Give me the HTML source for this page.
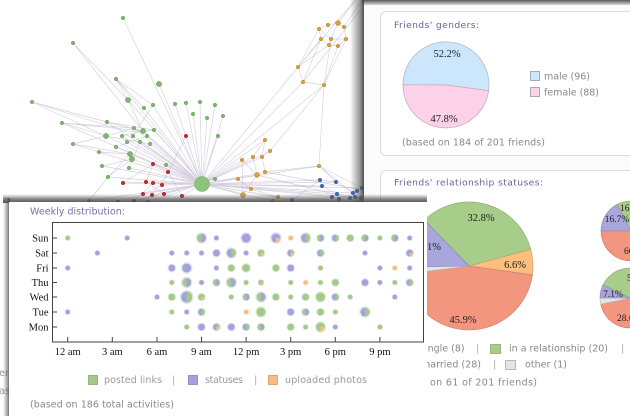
<!DOCTYPE html>
<html><head><meta charset="utf-8">
<style>
html,body{margin:0;padding:0;background:#fff;}
svg{display:block;}
.s{font-family:"DejaVu Sans","Liberation Sans",sans-serif;}
.f{font-family:"Liberation Serif","DejaVu Serif",serif;}
</style></head>
<body>
<svg width="630" height="416" viewBox="0 0 630 416" xmlns="http://www.w3.org/2000/svg">
<defs>
  <linearGradient id="shL" x1="0" x2="1" y1="0" y2="0">
    <stop offset="0" stop-color="#555" stop-opacity="0"/>
    <stop offset="0.7" stop-color="#555" stop-opacity="0.6"/>
    <stop offset="1" stop-color="#444" stop-opacity="0.95"/>
  </linearGradient>
  <linearGradient id="shT" x1="0" x2="0" y1="0" y2="1">
    <stop offset="0" stop-color="#444" stop-opacity="0.9"/>
    <stop offset="1" stop-color="#555" stop-opacity="0.1"/>
  </linearGradient>
  <linearGradient id="shT2" x1="0" x2="0" y1="0" y2="1">
    <stop offset="0" stop-color="#666" stop-opacity="0"/>
    <stop offset="0.55" stop-color="#555" stop-opacity="0.7"/>
    <stop offset="1" stop-color="#444" stop-opacity="0.95"/>
  </linearGradient>
  <g id="g"><circle r="1.3" fill="#a4c98a" opacity="0.35"/><circle r="1" fill="#a4c98a"/></g>
  <g id="p"><circle r="1.3" fill="#a3a3dc" opacity="0.35"/><circle r="1" fill="#a3a3dc"/></g>
  <g id="o"><circle r="1.3" fill="#fbbd7f" opacity="0.35"/><circle r="1" fill="#fbbd7f"/></g>
  <g id="gp"><circle r="1.3" fill="#a3b6c0" opacity="0.35"/><circle r="1" fill="#a4c98a"/><path d="M0,-1A1,1 0 0 1 0,1Z" fill="#a3a3dc"/></g>
  <g id="pg"><circle r="1.3" fill="#a3b6c0" opacity="0.35"/><circle r="1" fill="#a3a3dc"/><path d="M0,-1A1,1 0 0 1 0,1Z" fill="#a4c98a"/></g>
  <g id="go"><circle r="1.3" fill="#a4c98a" opacity="0.35"/><circle r="1" fill="#a4c98a"/><path d="M0,0L1,0A1,1 0 0 1 0,1Z" fill="#fbbd7f"/></g>
  <g id="po"><circle r="1.3" fill="#a3a3dc" opacity="0.35"/><circle r="1" fill="#a3a3dc"/><path d="M0,0L1,0A1,1 0 0 1 0,1Z" fill="#fbbd7f"/></g>
  <g id="pgo"><circle r="1.3" fill="#a3b6c0" opacity="0.35"/><circle r="1" fill="#a3a3dc"/><path d="M0,-1A1,1 0 0 1 0,1Z" fill="#a4c98a"/><path d="M0,0L1,0A1,1 0 0 1 0,1Z" fill="#fbbd7f"/></g>
</defs>

<!-- ===== Network graph ===== -->
<g stroke="#b0a0c0" stroke-opacity="0.5" stroke-width="0.65" fill="none">
<path d="M202,184L123,18M202,184L159,84M202,184L116,79M202,184L175,104M202,184L186,103M202,184L200,102M202,184L215,105M202,184L193,114M202,184L207,118M202,184L223,116M202,184L218,136M202,184L128,100M202,184L144,108M202,184L153,105M202,184L134,128M202,184L143,131M202,184L154,130M202,184L106,136M202,184L122,136M202,184L133,136M202,184L147,136M202,184L127,142M202,184L140,142M202,184L150,144M202,184L130,154M202,184L132,159M202,184L116,147M202,184L99,152M202,184L102,166M202,184L129,168M202,184L166,165M202,184L108,177M202,184L215,179M202,184L89,201M202,184L186,136M202,184L153,164M202,184L168,172M202,184L123,183M202,184L146,182M202,184L153,183M202,184L162,185M202,184L143,194M202,184L152,195M202,184L164,194M202,184L182,196M202,184L134,201M202,184L148,202M202,184L242,160M202,184L253,157M202,184L265,140M202,184L257,175M202,184L265,172M202,184L238,179M202,184L251,189M202,184L243,195M202,184L278,197M202,184L319,166M202,184L320,180M202,184L336,182M202,184L298,67M202,184L303,82M202,184L324,85M202,184L292,200M202,184L353,193M202,184L362,188M202,184L62,123M202,184L73,144M202,184L107,122M202,184L270,151M202,184L262,157M202,184L332,197M202,184L337,194M202,184L322,186M202,184L361,198M202,184L273,201"/>
<path d="M32,102L107,122M32,102L128,132M32,102L106,136M73,43L143,131M73,43L128,100M116,79L128,100M116,79L153,105M116,79L144,108M128,100L143,131M153,105L133,136M62,123L106,136M62,123L134,128M73,144L106,136M73,144L130,154M107,122L143,131M106,136L150,144M122,136L143,131M128,132L154,130M116,147L147,136M99,152L130,154M102,166L132,159M108,177L130,154M129,168L140,142M89,201L108,177M108,177L132,159M62,123L143,131M107,122L154,130M106,136L134,128"/>
<path d="M123,183L146,182M146,182L153,164M153,164L168,172M143,194L162,185M152,195L168,172M164,194L146,182M118,202L143,194M134,201L153,183M186,136L162,185M182,196L168,172M123,183L153,164"/>
<path d="M319,29L328,25L338,23L344,27L346,39L338,46L329,45L321,39L319,29M331,39L319,29M331,39L338,23M331,39L346,39M331,39L329,45M298,67L319,29M298,67L321,39M298,67L329,45M303,82L324,85M303,82L321,39M324,85L338,46M324,85L346,39M324,85L331,39M298,67L303,82M338,23L356,0M344,27L362,0M298,67L355,0M303,82L362,8M324,85L319,166M324,85L270,151M265,140L253,157M265,140L262,157M270,151L262,157M253,157L257,175M262,157L265,172M242,160L257,175M238,179L251,189M257,175L243,195M265,172L319,166M251,189L278,197M242,160L243,195M319,166L336,182M319,166L362,188M319,166L353,193M320,180L336,182M322,186L337,194M336,182L353,193M337,194L362,198M332,197L350,198M357,191L339,199M292,200L320,180M265,172L362,190M257,175L350,198"/>
</g>
<g stroke-width="0.5">
 <g fill="#80b770" stroke="#5f9a50">
  <circle cx="123" cy="18" r="1.8"/><circle cx="73" cy="43" r="1.8"/><circle cx="116" cy="79" r="1.8"/><circle cx="32" cy="102" r="1.8"/><circle cx="144" cy="108" r="1.8"/><circle cx="153" cy="105" r="1.8"/><circle cx="175" cy="104" r="1.8"/><circle cx="186" cy="103" r="1.8"/><circle cx="200" cy="102" r="1.8"/><circle cx="215" cy="105" r="1.8"/><circle cx="193" cy="114" r="1.8"/><circle cx="207" cy="118" r="1.8"/><circle cx="223" cy="116" r="1.8"/><circle cx="218" cy="136" r="1.8"/><circle cx="62" cy="123" r="1.8"/><circle cx="107" cy="122" r="1.8"/><circle cx="134" cy="128" r="1.8"/><circle cx="154" cy="130" r="1.8"/><circle cx="122" cy="136" r="1.8"/><circle cx="133" cy="136" r="1.8"/><circle cx="147" cy="136" r="1.8"/><circle cx="73" cy="144" r="1.8"/><circle cx="127" cy="142" r="1.8"/><circle cx="140" cy="142" r="1.8"/><circle cx="150" cy="144" r="1.8"/><circle cx="116" cy="147" r="1.8"/><circle cx="99" cy="152" r="1.8"/><circle cx="102" cy="166" r="1.8"/><circle cx="129" cy="168" r="1.8"/><circle cx="166" cy="165" r="1.8"/><circle cx="108" cy="177" r="1.8"/><circle cx="215" cy="179" r="1.8"/>
  <circle cx="159" cy="84" r="2.6"/><circle cx="128" cy="100" r="2.6"/><circle cx="143" cy="131" r="2.6"/><circle cx="106" cy="136" r="2.6"/><circle cx="130" cy="154" r="2.6"/><circle cx="132" cy="159" r="2.6"/>
  <circle cx="202" cy="184" r="7.5" fill="#8cc47a" stroke="#6aa55a"/>
 </g>
 <circle cx="89" cy="201" r="1.8" fill="#4d8a3f"/>
 <g fill="#cc2a2a" stroke="#a01818">
  <circle cx="186" cy="136" r="1.8"/><circle cx="153" cy="164" r="1.8"/><circle cx="168" cy="172" r="1.8"/><circle cx="123" cy="183" r="1.8"/><circle cx="146" cy="182" r="1.8"/><circle cx="153" cy="183" r="1.8"/><circle cx="162" cy="185" r="1.8"/><circle cx="143" cy="194" r="1.8"/><circle cx="152" cy="195" r="1.8"/><circle cx="164" cy="194" r="1.8"/><circle cx="182" cy="196" r="1.8"/><circle cx="118" cy="202" r="1.8"/><circle cx="134" cy="201" r="1.8"/><circle cx="148" cy="202" r="1.8"/>
 </g>
 <g fill="#d9a23a" stroke="#b07f20">
  <circle cx="319" cy="29" r="1.8"/><circle cx="328" cy="25" r="1.8"/><circle cx="344" cy="27" r="1.8"/><circle cx="321" cy="39" r="1.8"/><circle cx="331" cy="39" r="1.8"/><circle cx="346" cy="39" r="1.8"/><circle cx="329" cy="45" r="1.8"/><circle cx="338" cy="46" r="1.8"/><circle cx="298" cy="67" r="1.8"/><circle cx="303" cy="82" r="1.8"/><circle cx="324" cy="85" r="1.8"/><circle cx="265" cy="140" r="1.8"/><circle cx="253" cy="157" r="1.8"/><circle cx="262" cy="157" r="1.8"/><circle cx="270" cy="151" r="1.8"/><circle cx="242" cy="160" r="1.8"/><circle cx="265" cy="172" r="1.8"/><circle cx="238" cy="179" r="1.8"/><circle cx="251" cy="189" r="1.8"/><circle cx="319" cy="166" r="1.8"/><circle cx="278" cy="197" r="1.8"/><circle cx="273" cy="201" r="1.8"/>
  <circle cx="338" cy="23" r="2.5"/><circle cx="257" cy="175" r="2.5"/><circle cx="243" cy="195" r="2.5"/>
 </g>
 <g fill="#3a6ec0" stroke="#24509a">
  <circle cx="320" cy="180" r="1.8"/><circle cx="322" cy="186" r="1.8"/><circle cx="336" cy="182" r="1.8"/><circle cx="337" cy="194" r="1.8"/><circle cx="353" cy="193" r="1.8"/><circle cx="357" cy="191" r="1.8"/><circle cx="362" cy="188" r="1.8"/><circle cx="332" cy="197" r="1.8"/><circle cx="339" cy="199" r="1.8"/><circle cx="350" cy="198" r="1.8"/><circle cx="355" cy="197" r="1.8"/><circle cx="361" cy="198" r="1.8"/><circle cx="292" cy="200" r="1.8"/>
 </g>
</g>

<!-- ghost text far left -->
<text class="s" x="-1" y="376" font-size="10" fill="#999">er</text>
<text class="s" x="-1" y="394" font-size="10" fill="#999">as</text>

<!-- ===== Right window ===== -->
<rect x="350" y="0" width="14" height="416" fill="url(#shL)"/>
<rect x="362" y="0" width="268" height="6" fill="url(#shT)"/>
<rect x="364" y="5" width="266" height="411" fill="#fbfbfb"/>
<rect x="380.5" y="11.5" width="262" height="144" rx="6" fill="#fff" stroke="#dcdcdc"/>
<rect x="380.5" y="170.5" width="262" height="262" rx="6" fill="#fff" stroke="#dcdcdc"/>

<text class="s" x="394" y="28" font-size="9.2" fill="#6e5f96" textLength="85">Friends' genders:</text>
<path d="M446,85L403,84.7A43,43 0 1 1 488.6,90.7Z" fill="#cce7fb" stroke="#a9b4c4" stroke-width="0.7"/>
<path d="M446,85L488.6,90.7A43,43 0 0 1 403,84.7Z" fill="#fdd1e7" stroke="#c0a9b8" stroke-width="0.7"/>
<text class="f" x="447" y="57" font-size="10.5" fill="#222" text-anchor="middle">52.2%</text>
<text class="f" x="444" y="122" font-size="10.5" fill="#222" text-anchor="middle">47.8%</text>
<rect x="530.5" y="71.5" width="9" height="9" fill="#cce7fb" stroke="#999" stroke-width="0.8"/>
<text class="s" x="544" y="79.5" font-size="9.5" fill="#888" textLength="46">male (96)</text>
<rect x="530.5" y="87.5" width="9" height="9" fill="#fdd1e7" stroke="#999" stroke-width="0.8"/>
<text class="s" x="544" y="95.5" font-size="9.5" fill="#888" textLength="55">female (88)</text>
<text class="s" x="402" y="145.5" font-size="9.5" fill="#888" textLength="143">(based on 184 of 201 friends)</text>

<text class="s" x="394" y="185.5" font-size="9.2" fill="#6e5f96" textLength="149">Friends' relationship statuses:</text>
<path d="M469,266L424.5,220A64,64 0 0 1 530.8,249.4Z" fill="#a8cc8a" stroke="#8aa870" stroke-width="0.6"/>
<path d="M469,266L530.8,249.4A64,64 0 0 1 532.4,274.9Z" fill="#fdbf7c" stroke="#c89a68" stroke-width="0.6"/>
<path d="M469,266L532.4,274.9A64,64 0 0 1 405.5,273.8Z" fill="#f29680" stroke="#c87a6a" stroke-width="0.6"/>
<path d="M469,266L405.5,273.8A64,64 0 0 1 405,267.1Z" fill="#e4e4e4" stroke="#bbb" stroke-width="0.6"/>
<path d="M469,266L405,267.1A64,64 0 0 1 424.5,220Z" fill="#a8a6dc" stroke="#8a88b8" stroke-width="0.6"/>
<text class="f" x="481" y="221" font-size="10.5" fill="#222" text-anchor="middle">32.8%</text>
<text class="f" x="515" y="268" font-size="10.5" fill="#222" text-anchor="middle">6.6%</text>
<text class="f" x="463" y="323" font-size="10.5" fill="#222" text-anchor="middle">45.9%</text>
<text class="f" x="441" y="250" font-size="10.5" fill="#222" text-anchor="end">13.1%</text>

<path d="M631,231L601,231A30,30 0 0 1 617.4,204.3Z" fill="#a8a6dc" stroke="#8a88b8" stroke-width="0.6"/>
<path d="M631,231L617.4,204.3A30,30 0 0 1 647.3,205.8Z" fill="#a8cc8a" stroke="#8aa870" stroke-width="0.6"/>
<path d="M631,231L647.3,205.8A30,30 0 1 1 601,231Z" fill="#f29680" stroke="#c87a6a" stroke-width="0.6"/>
<text class="f" x="617" y="222" font-size="9.5" fill="#222" text-anchor="middle">16.7%</text>
<text class="f" x="620" y="211" font-size="9.5" fill="#222">16.7%</text>
<text class="f" x="624" y="254" font-size="9.5" fill="#222">66.7%</text>

<path d="M630,298L642.7,325.2A30,30 0 0 1 600.7,304.2Z" fill="#f29680" stroke="#c87a6a" stroke-width="0.6"/>
<path d="M630,298L600.7,304.2A30,30 0 0 1 600,298Z" fill="#e4e4e4" stroke="#bbb" stroke-width="0.6"/>
<path d="M630,298L600,298A30,30 0 0 1 603,284.8Z" fill="#a8a6dc" stroke="#8a88b8" stroke-width="0.6"/>
<path d="M630,298L603,284.8A30,30 0 1 1 642.7,325.2Z" fill="#a8cc8a" stroke="#8aa870" stroke-width="0.6"/>
<text class="f" x="613" y="297" font-size="9.5" fill="#222" text-anchor="middle">7.1%</text>
<text class="f" x="617" y="321" font-size="9.5" fill="#222">28.6%</text>
<text class="f" x="627" y="281" font-size="9.5" fill="#222">57.1%</text>

<text class="s" x="420" y="351.5" font-size="9.5" fill="#888">single (8)</text>
<text class="s" x="476" y="351.5" font-size="10" fill="#aaa">|</text>
<rect x="490.5" y="344.5" width="10" height="9" fill="#a8cc8a" stroke="#8aa870" stroke-width="0.8"/>
<text class="s" x="509" y="351.5" font-size="9.5" fill="#888" textLength="99">in a relationship (20)</text>
<text class="s" x="621" y="351.5" font-size="10" fill="#aaa">|</text>
<text class="s" x="421" y="367.5" font-size="9.5" fill="#888" textLength="60">married (28)</text>
<text class="s" x="493" y="367.5" font-size="10" fill="#aaa">|</text>
<rect x="505.5" y="360.5" width="10" height="9" fill="#e4e4e4" stroke="#aaa" stroke-width="0.8"/>
<text class="s" x="525" y="367.5" font-size="9.5" fill="#888" textLength="42">other (1)</text>
<text class="s" x="392" y="385.5" font-size="9.5" fill="#888" textLength="145">(based on 61 of 201 friends)</text>

<!-- ===== Weekly window ===== -->
<rect x="3" y="194" width="424" height="9" fill="url(#shT2)"/>
<rect x="3" y="198" width="7" height="218" fill="url(#shL)"/>
<rect x="9" y="202" width="418" height="214" fill="#fff"/>

<text class="s" x="30" y="214.5" font-size="9.5" fill="#7a6ea8" textLength="95">Weekly distribution:</text>
<rect x="52.5" y="222.5" width="371" height="119.5" fill="none" stroke="#444" stroke-width="1"/>
<g stroke="#444" stroke-width="1">
 <path d="M52,238H57M52,253H57M52,268H57M52,282.5H57M52,297H57M52,312H57M52,327H57"/>
 <path d="M67.7,342V337M112.3,342V337M157,342V337M201.5,342V337M246.1,342V337M290.7,342V337M335.3,342V337M379.9,342V337"/>
</g>
<g class="f" font-size="10.5" fill="#111" text-anchor="end">
 <text x="48.5" y="241.5">Sun</text>
 <text x="48.5" y="256.5">Sat</text>
 <text x="48.5" y="271.5">Fri</text>
 <text x="48.5" y="286">Thu</text>
 <text x="48.5" y="300.5">Wed</text>
 <text x="48.5" y="315.5">Tue</text>
 <text x="48.5" y="330.5">Mon</text>
</g>
<g class="f" font-size="10.5" fill="#111" text-anchor="middle">
 <text x="67.7" y="355">12 am</text>
 <text x="112.3" y="355">3 am</text>
 <text x="157" y="355">6 am</text>
 <text x="201.5" y="355">9 am</text>
 <text x="246.1" y="355">12 pm</text>
 <text x="290.7" y="355">3 pm</text>
 <text x="335.3" y="355">6 pm</text>
 <text x="379.9" y="355">9 pm</text>
</g>

<!-- dots -->
<g>
<use href="#g" transform="translate(67.7,238) scale(2.3)"/>
<use href="#p" transform="translate(127.2,238) scale(2.3)"/>
<use href="#gp" transform="translate(201.5,238) scale(4.4)"/>
<use href="#p" transform="translate(216.4,238) scale(2.3)"/>
<use href="#p" transform="translate(246.1,238) scale(4.4)"/>
<use href="#po" transform="translate(275.9,238) scale(4.4)"/>
<use href="#o" transform="translate(290.7,238) scale(2.3)"/>
<use href="#pg" transform="translate(305.6,238) scale(4.4)"/>
<use href="#gp" transform="translate(320.5,238) scale(3.3)"/>
<use href="#pg" transform="translate(335.3,238) scale(3.3)"/>
<use href="#g" transform="translate(350.2,238) scale(3.3)"/>
<use href="#gp" transform="translate(365,238) scale(3.3)"/>
<use href="#g" transform="translate(379.9,238) scale(2.3)"/>
<use href="#gp" transform="translate(394.8,238) scale(3.3)"/>
<use href="#p" transform="translate(409.7,238) scale(2.3)"/>

<use href="#p" transform="translate(97.4,253) scale(2.3)"/>
<use href="#p" transform="translate(171.8,253) scale(2.3)"/>
<use href="#p" transform="translate(186.7,253) scale(2.3)"/>
<use href="#p" transform="translate(201.5,253) scale(2.3)"/>
<use href="#p" transform="translate(216.4,253) scale(3.3)"/>
<use href="#pg" transform="translate(231.3,253) scale(4.4)"/>
<use href="#p" transform="translate(246.1,253) scale(2.3)"/>
<use href="#go" transform="translate(261,253) scale(3.3)"/>
<use href="#pgo" transform="translate(290.7,253) scale(3.3)"/>
<use href="#pg" transform="translate(320.5,253) scale(3.3)"/>
<use href="#p" transform="translate(365,253) scale(2.3)"/>
<use href="#po" transform="translate(409.7,253) scale(3.3)"/>

<use href="#p" transform="translate(67.7,268) scale(2.3)"/>
<use href="#p" transform="translate(171.8,268) scale(3.3)"/>
<use href="#p" transform="translate(186.7,268) scale(4.4)"/>
<use href="#p" transform="translate(216.4,268) scale(2.3)"/>
<use href="#g" transform="translate(231.3,268) scale(3.3)"/>
<use href="#g" transform="translate(246.1,268) scale(3.8)"/>
<use href="#g" transform="translate(275.9,268) scale(3.3)"/>
<use href="#p" transform="translate(290.7,268) scale(3.3)"/>
<use href="#g" transform="translate(320.5,268) scale(2.3)"/>
<use href="#p" transform="translate(379.9,268) scale(2.3)"/>
<use href="#o" transform="translate(394.8,268) scale(2.3)"/>
<use href="#p" transform="translate(409.7,268) scale(2.3)"/>

<use href="#g" transform="translate(171.8,282.5) scale(2.3)"/>
<use href="#gp" transform="translate(186.7,282.5) scale(4.4)"/>
<use href="#p" transform="translate(201.5,282.5) scale(2.3)"/>
<use href="#gp" transform="translate(216.4,282.5) scale(3.3)"/>
<use href="#gp" transform="translate(231.3,282.5) scale(4.4)"/>
<use href="#g" transform="translate(246.1,282.5) scale(2.3)"/>
<use href="#go" transform="translate(261,282.5) scale(2.6)"/>
<use href="#g" transform="translate(290.7,282.5) scale(2.3)"/>
<use href="#o" transform="translate(305.6,282.5) scale(2.3)"/>
<use href="#g" transform="translate(320.5,282.5) scale(2.3)"/>
<use href="#g" transform="translate(335.3,282.5) scale(3.3)"/>
<use href="#p" transform="translate(365,282.5) scale(3.3)"/>
<use href="#p" transform="translate(379.9,282.5) scale(2.3)"/>
<use href="#g" transform="translate(394.8,282.5) scale(2.3)"/>
<use href="#pg" transform="translate(409.7,282.5) scale(3.3)"/>

<use href="#p" transform="translate(157,297) scale(2.3)"/>
<use href="#g" transform="translate(171.8,297) scale(3.3)"/>
<use href="#pg" transform="translate(186.7,297) scale(5.4)"/>
<use href="#go" transform="translate(201.5,297) scale(3.3)"/>
<use href="#g" transform="translate(231.3,297) scale(2.3)"/>
<use href="#gp" transform="translate(246.1,297) scale(3.3)"/>
<use href="#gp" transform="translate(261,297) scale(4.4)"/>
<use href="#g" transform="translate(275.9,297) scale(3.3)"/>
<use href="#g" transform="translate(290.7,297) scale(2.3)"/>
<use href="#g" transform="translate(305.6,297) scale(3.3)"/>
<use href="#g" transform="translate(320.5,297) scale(4.4)"/>
<use href="#pg" transform="translate(335.3,297) scale(3.3)"/>
<use href="#g" transform="translate(350.2,297) scale(2.3)"/>
<use href="#p" transform="translate(394.8,297) scale(2.3)"/>

<use href="#p" transform="translate(67.7,312) scale(2.3)"/>
<use href="#g" transform="translate(171.8,312) scale(2.3)"/>
<use href="#p" transform="translate(186.7,312) scale(2.3)"/>
<use href="#pg" transform="translate(201.5,312) scale(3.3)"/>
<use href="#o" transform="translate(246.1,312) scale(2.3)"/>
<use href="#g" transform="translate(261,312) scale(4.4)"/>
<use href="#p" transform="translate(290.7,312) scale(3.3)"/>
<use href="#gp" transform="translate(305.6,312) scale(3.3)"/>
<use href="#g" transform="translate(320.5,312) scale(3.3)"/>
<use href="#g" transform="translate(335.3,312) scale(2.3)"/>
<use href="#pg" transform="translate(365,312) scale(4.4)"/>

<use href="#g" transform="translate(186.7,327) scale(2.3)"/>
<use href="#p" transform="translate(201.5,327) scale(3.3)"/>
<use href="#pgo" transform="translate(216.4,327) scale(3.3)"/>
<use href="#p" transform="translate(231.3,327) scale(3.3)"/>
<use href="#pg" transform="translate(246.1,327) scale(3.3)"/>
<use href="#gp" transform="translate(261,327) scale(3.3)"/>
<use href="#g" transform="translate(290.7,327) scale(3.3)"/>
<use href="#g" transform="translate(305.6,327) scale(2.3)"/>
<use href="#go" transform="translate(320.5,327) scale(4.4)"/>
<use href="#p" transform="translate(335.3,327) scale(2.3)"/>
<use href="#g" transform="translate(379.9,327) scale(2.3)"/>
</g>

<!-- legend -->
<rect x="88.5" y="375.5" width="9" height="9" fill="#a4c98a" stroke="#86aa6c" stroke-width="0.8"/>
<text class="s" x="104" y="383" font-size="9.5" fill="#999" textLength="58">posted links</text>
<text class="s" x="172" y="383" font-size="10" fill="#aaa">|</text>
<rect x="188.5" y="375.5" width="9" height="9" fill="#a3a3dc" stroke="#8686bb" stroke-width="0.8"/>
<text class="s" x="205" y="383" font-size="9.5" fill="#999" textLength="38">statuses</text>
<text class="s" x="254" y="383" font-size="10" fill="#aaa">|</text>
<rect x="268.5" y="375.5" width="9" height="9" fill="#fbbd7f" stroke="#d29a5e" stroke-width="0.8"/>
<text class="s" x="285" y="383" font-size="9.5" fill="#999" textLength="82">uploaded photos</text>
<text class="s" x="30" y="407.5" font-size="9.5" fill="#888" textLength="144">(based on 186 total activities)</text>
</svg>
</body></html>
